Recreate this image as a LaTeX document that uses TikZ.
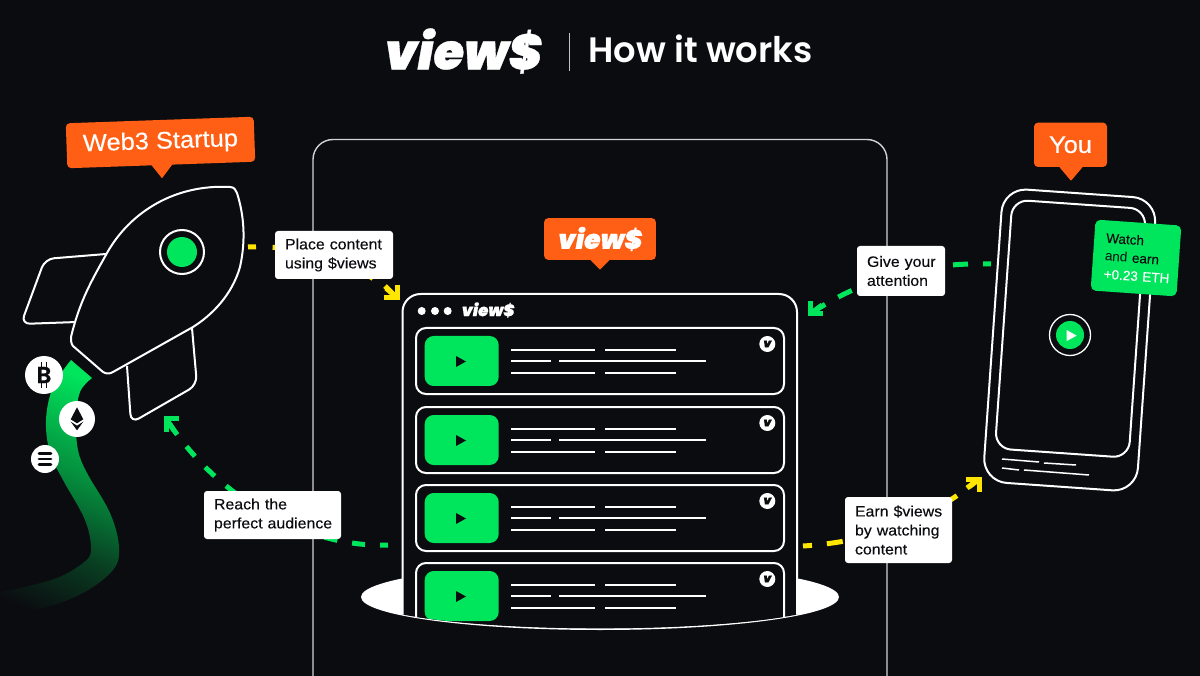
\documentclass[tikz,border=0pt]{standalone}
\usepackage{fontspec}
\usetikzlibrary{arrows.meta,shapes.geometric}
\setmainfont{Liberation Sans}
\newfontfamily\popsb{Poppins SemiBold}
\newfontfamily\logof[FakeBold=0.6]{Poppins Black Italic}
\newfontfamily\btcf[FakeBold=0.8]{Poppins SemiBold}
\newfontfamily\labf[FakeBold=0.25]{Liberation Sans}
\newfontfamily\tagf[FakeBold=0.25,FakeStretch=1.06]{Liberation Sans}
\definecolor{bgc}{HTML}{0B0C10}
\definecolor{grn}{HTML}{00E65C}
\definecolor{org}{HTML}{FF5F14}
\definecolor{yel}{HTML}{FFE600}
\pgfdeclareverticalshading{tailfade}{100bp}{color(0bp)=(bgc); color(20bp)=(bgc); color(36bp)=(grn!22!bgc); color(54bp)=(grn!60!bgc); color(76bp)=(grn); color(100bp)=(grn)}
\tikzset{
  wline/.style={draw=white,line width=2pt,line join=round},
  tline/.style={draw=white,line width=1.8pt},
  infobox/.style={fill=white,rounded corners=3pt,text=bgc,inner xsep=10pt,inner ysep=0pt,align=left,font=\tagf\fontsize{15}{19}\selectfont},
  orangetag/.style={fill=org,rounded corners=4pt,text=white,inner sep=0pt,align=center},
  tagtip/.style={fill=org,draw=org,line width=1pt,line join=round},
  flow/.style={line width=5pt},
  flowhead/.style={line width=5pt,miter limit=10},
  coin/.style={circle,fill=white,inner sep=0pt},
  vbadge/.style={circle,fill=white,text=bgc,inner sep=0pt,minimum size=16pt,font=\logof\fontsize{12}{12}\selectfont}
}
\begin{document}
\begin{tikzpicture}[x=1pt,y=-1pt]
\useasboundingbox (0,0) rectangle (1200,676);
\fill[bgc] (0,0) rectangle (1200,676);

% title
\node[text=white,inner sep=0pt,font=\logof\fontsize{49.5}{50}\selectfont] (titlelogo) at (463,51) {view\$};
\draw[white!75!bgc,line width=1pt] (569,33) -- (569,71);
\node[text=white,inner sep=0pt,anchor=base west,font=\popsb\fontsize{35.3}{35}\selectfont] (titletext) at (588,63) {How it works};

% centre panel
\draw[white!82!bgc,line width=1.4pt,rounded corners=20pt] (313,676) -- (313,139.5) -- (887,139.5) -- (887,676);

% platform
\fill[white] (600,597) ellipse [x radius=239pt,y radius=33pt];

% browser window
\begin{scope}
\clip (0,0) -- (1200,0) -- (1200,597) -- (839,597) .. controls (839,614) and (732,628.3) .. (600,628.3) .. controls (468,628.3) and (361,614) .. (361,597) -- (0,597) -- cycle;
\draw[fill=bgc,wline,rounded corners=18pt] (402.5,680) -- (402.5,294) -- (797,294) -- (797,680) -- cycle;
\foreach \t [count=\i] in {328,407,485,563}{
  \draw[wline,fill=bgc,rounded corners=10pt] (416,\t) rectangle (784,\t+66);
  \fill[grn,rounded corners=9pt] (424.7,\t+8) rectangle (498.7,\t+58);
  \fill[bgc] (456,\t+28) -- (466,\t+33.5) -- (456,\t+39) -- cycle;
  \draw[tline] (511.3,\t+22) -- (595,\t+22) (605,\t+22) -- (676,\t+22);
  \draw[tline] (511.3,\t+33) -- (551,\t+33) (559.3,\t+33) -- (706,\t+33);
  \draw[tline] (511.3,\t+45) -- (595,\t+45) (605,\t+45) -- (676,\t+45);
  \node[vbadge] (badge\i) at (767.3,\t+16) {v};
}
\end{scope}
\fill[white] (421.7,311) circle (4) (435,311) circle (4) (447.7,311) circle (4);
\node[text=white,inner sep=0pt,font=\logof\fontsize{16.6}{17}\selectfont] (windowlogo) at (488,310) {view\$};

% views tag
\node[orangetag,minimum width=111.7pt,minimum height=41.7pt,font=\logof\fontsize{26.5}{27}\selectfont] (viewstag) at (600,239) {view\$};
\draw[tagtip] (591,260) -- (600,269) -- (609,260) -- cycle;

% rocket tail
\shade[shading=tailfade,shading angle=-24] plot[smooth,tension=0.6] coordinates {(71,360) (53,387) (46,420) (50,453) (63,480) (85,520) (91,550) (83,563) (57,578) (20,588) (0,592)} -- (0,612) -- plot[smooth,tension=0.6] coordinates {(0,612) (43,608) (83,593) (113,570) (119,547) (110,513) (87,473) (78,450) (76,420) (80,392) (92,378)} -- cycle;

% coins
\node[coin,minimum size=38pt,text=bgc,font=\btcf\fontsize{23}{23}\selectfont] (btc) at (44,375) {B};
\draw[bgc,line width=1.8pt] (41.5,362) -- (41.5,367) (46.5,362) -- (46.5,367) (41.5,383) -- (41.5,388) (46.5,383) -- (46.5,388);
\node[coin,minimum size=36pt] (eth) at (77,419) {};
\fill[bgc] (77,407.3) -- (83.3,419.3) -- (77,423.3) -- (70.7,419.3) -- cycle;
\fill[bgc] (70.7,421.7) -- (77,425.7) -- (83.3,421.7) -- (77,430.3) -- cycle;
\node[coin,minimum size=28pt] (sol) at (45,459) {};
\draw[bgc,line width=2.8pt,line cap=round] (39,453.8) -- (51,453.8) (39,459) -- (51,459) (39,464.2) -- (51,464.2);

% rocket
\draw[wline,rounded corners=9pt,fill=bgc] (106,254) -- (45,259) -- (21,324) -- (77,322);
\draw[wline,rounded corners=9pt,fill=bgc] (127,366) -- (131,423) -- (197,385) -- (192,328);
\draw[wline,fill=bgc] (71,337) .. controls (80,300) and (92,280) .. (107,253) .. controls (130,212) and (175,184) .. (230,187) .. controls (234,187) and (236,190) .. (237,193) .. controls (244,215) and (246,240) .. (240,267) .. controls (232,295) and (212,315) .. (193,327) -- (113,372) .. controls (110,374) and (106,374) .. (103,372) -- (73,346) .. controls (71,344) and (71,340) .. (71,337) -- cycle;
\node[circle,draw=white,line width=2pt,minimum size=44pt,inner sep=0pt] (porthole) at (182,252) {};
\fill[grn] (porthole.center) circle (15);

% web3 tag
\node[orangetag,rotate=2,minimum width=188pt,minimum height=45pt,font=\tagf\fontsize{24}{24}\selectfont] (web3) at (160.5,142.5) {Web3 Startup};
\draw[tagtip] (152,165) -- (162,177.5) -- (172,164) -- cycle;

% phone
\begin{scope}[shift={(1069.7,340)},rotate=-4]
\draw[wline,rounded corners=24pt] (-77,-147) rectangle (77,147);
\draw[wline,rounded corners=16pt] (-67,-136) rectangle (67,113.4);
\end{scope}
\draw[white,line width=1.5pt] (1002,459) -- (1039,462) (1044,463) -- (1076,465) (1002,468) -- (1019,470) (1024,470) -- (1089,475);
\node[circle,draw=white,line width=1.3pt,minimum size=41pt,inner sep=0pt] (playring) at (1070,335) {};
\fill[grn] (playring.center) circle (14);
\fill[white] (1066.7,330) -- (1076.7,335.7) -- (1066.7,341) -- cycle;

% you tag
\node[orangetag,minimum width=73pt,minimum height=44.3pt,font=\tagf\fontsize{24}{24}\selectfont] (you) at (1070.5,144.8) {You};
\draw[tagtip] (1060,167) -- (1071,180) -- (1082,167) -- cycle;

% connectors
\coordinate (rocketout) at (248,247);
\coordinate (windowin) at (397,298);
\coordinate (windowleft) at (388,545);
\coordinate (rocketin) at (166,418.5);
\coordinate (phoneout) at (991,264);
\coordinate (windowright) at (810,314);
\coordinate (windowout) at (803,546);
\coordinate (phonein) at (979,479);
\draw[yel,flow,dash pattern=on 8pt off 16.6pt] (rocketout) .. controls (310,245) and (360,262) .. (windowin);
\draw[yel,flowhead] ([shift={(0,-13)}]windowin) -- (windowin) -- ([shift={(-13,0)}]windowin);
\draw[yel,flowhead] (windowin) -- ([shift={(-12,-12)}]windowin);
\draw[grn,flow,dash pattern=on 13pt off 15pt,dash phase=5pt] (windowleft) .. controls (320,548) and (225,510) .. (rocketin);
\draw[grn,flowhead] ([shift={(13,0)}]rocketin) -- (rocketin) -- ([shift={(0,13)}]rocketin);
\draw[grn,flowhead] (rocketin) -- ([shift={(8,12)}]rocketin);
\draw[grn,flow,dash pattern=on 15pt off 15pt,dash phase=7pt] (phoneout) .. controls (920,262) and (860,280) .. (windowright);
\draw[grn,flowhead] ([shift={(13,0)}]windowright) -- (windowright) -- ([shift={(0,-13)}]windowright);
\draw[grn,flowhead] (windowright) -- ([shift={(12,-9)}]windowright);
\draw[yel,flow,dash pattern=on 16pt off 15pt,dash phase=7pt] (windowout) .. controls (870,542) and (930,520) .. (phonein);
\draw[yel,flowhead] ([shift={(-13,0)}]phonein) -- (phonein) -- ([shift={(0,13)}]phonein);
\draw[yel,flowhead] (phonein) -- ([shift={(-12,9)}]phonein);

% labels
\node[infobox,minimum width=118pt,text width=98pt,minimum height=48pt] (place) at (334,255) {\mbox{Place content}\\\mbox{using \$views}};
\node[infobox,minimum width=137pt,text width=117pt,minimum height=48pt] (reach) at (272.5,515) {\mbox{Reach the}\\\mbox{perfect audience}};
\node[infobox,minimum width=88pt,text width=68pt,minimum height=50pt] (give) at (901,271) {\mbox{Give your}\\\mbox{attention}};
\node[infobox,minimum width=107pt,text width=87pt,minimum height=66pt] (earn) at (898.5,530) {\mbox{Earn \$views}\\\mbox{by watching}\\\mbox{content}};

% green card
\node[fill=grn,rounded corners=5pt,rotate=-4,minimum width=86pt,minimum height=71pt,inner xsep=12pt,inner ysep=0pt,text width=62pt,align=left,text=bgc,font=\fontsize{13.5}{18}\selectfont] (card) at (1136,258) {\mbox{\labf Watch}\\\mbox{and {\labf earn}}\\\mbox{\textcolor{white}{\labf +0.23 ETH}}};
\end{tikzpicture}
\end{document}
